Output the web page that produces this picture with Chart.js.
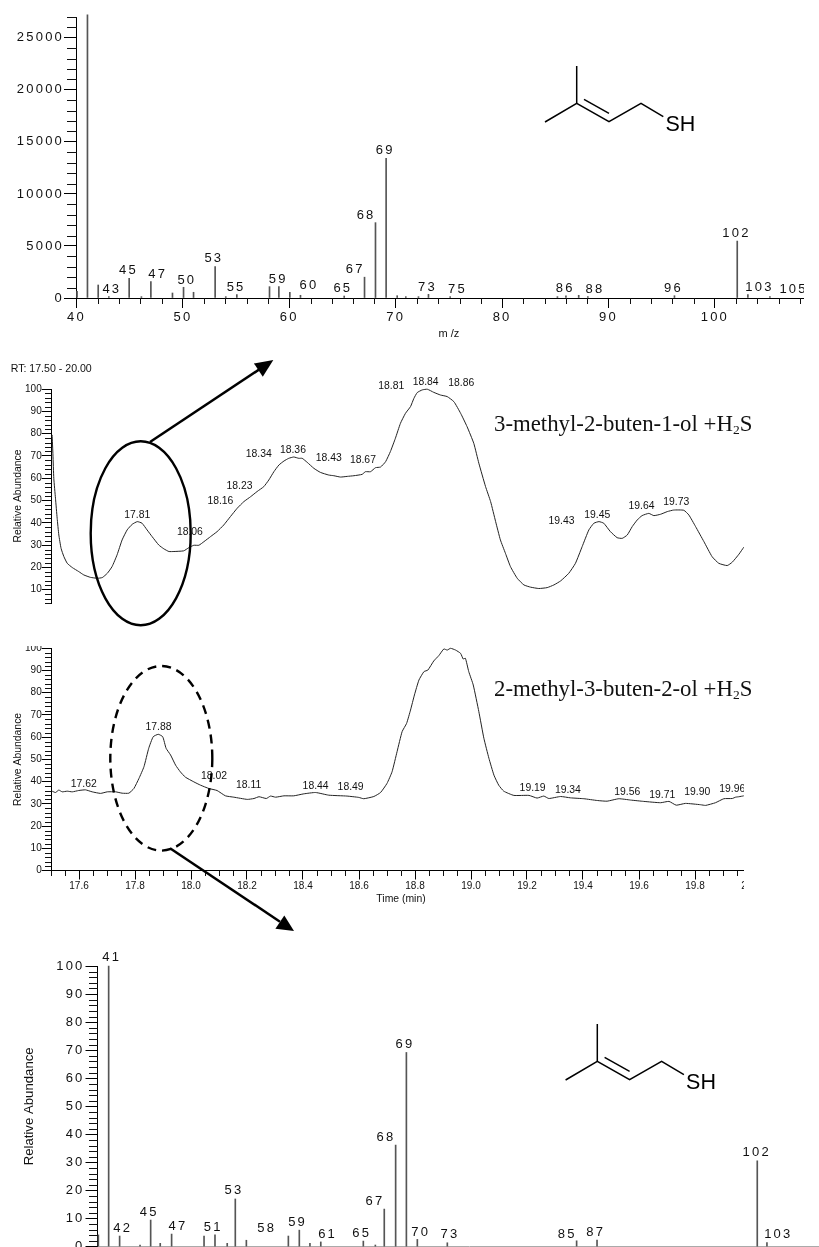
<!DOCTYPE html>
<html>
<head>
<meta charset="utf-8">
<title>Spectra and chromatograms</title>
<script src="https://cdn.jsdelivr.net/npm/chart.js@4"></script>
<style>
  html, body { margin: 0; padding: 0; background: #fff; width: 819px; height: 1247px; overflow: hidden; }
  .panel { position: absolute; left: 0; overflow: hidden; }
  .panel canvas { display: block; }
  #overlay { position: absolute; left: 0; top: 0; pointer-events: none; }
</style>
</head>
<body>
<div class="panel" style="top:0;width:804px;height:345px"><canvas id="cSpec1" width="860" height="345"></canvas></div>
<div class="panel" style="top:355px;width:744px;height:260px"><canvas id="cTic1" width="760" height="260"></canvas></div>
<div class="panel" style="top:646px;width:744px;height:270px"><canvas id="cTic2" width="760" height="270"></canvas></div>
<div class="panel" style="top:950px;width:819px;height:297px"><canvas id="cSpec2" width="900" height="320"></canvas></div>

<svg id="overlay" width="819" height="1247" xmlns="http://www.w3.org/2000/svg">
  <defs>
    <g id="mol" fill="none" stroke="#000" stroke-width="1.5">
      <path d="M545 122 L576.7 103.3 L609 121.7 L641 103.3 L663.3 116.7"/>
      <path d="M576.7 103.3 L576.7 66"/>
      <path d="M584 99.3 L609 113.3"/>
      <text x="665.5" y="130.7" fill="#000" stroke="none" font-family="Liberation Sans" font-size="21.5">SH</text>
    </g>
  </defs>
  <use href="#mol"/>
  <use href="#mol" transform="translate(20.6 958)"/>
  <text x="10.7" y="371.5" font-family="Liberation Sans" font-size="10.6" fill="#111">RT: 17.50 - 20.00</text>
  <text x="494" y="431" font-family="Liberation Serif" font-size="22.8" fill="#111">3-methyl-2-buten-1-ol +H<tspan font-size="13.5" dy="3">2</tspan><tspan dy="-3">S</tspan></text>
  <text x="494" y="696" font-family="Liberation Serif" font-size="22.8" fill="#111">2-methyl-3-buten-2-ol +H<tspan font-size="13.5" dy="3">2</tspan><tspan dy="-3">S</tspan></text>
  <ellipse cx="140.7" cy="533.3" rx="50" ry="92" fill="none" stroke="#000" stroke-width="2.4"/>
  <ellipse cx="161.3" cy="758.3" rx="51" ry="92.3" fill="none" stroke="#000" stroke-width="2.4" stroke-dasharray="9 6"/>
  <path d="M150 442 L260 368.9" stroke="#000" stroke-width="2.5"/>
  <polygon points="273.3,360 262.8,376.7 253.9,363.4" fill="#000"/>
  <path d="M170 848.3 L280 921.7" stroke="#000" stroke-width="2.5"/>
  <polygon points="294,931 275.4,928.7 284.3,915.4" fill="#000"/>
</svg>

<script>
/* upper mass spectrum */
var spec1Mz = [40.05, 41.03, 42.04, 43.04, 44.95, 46.1, 46.99, 49.02, 50.06, 51.0, 53.03, 54.03, 55.07, 58.14, 59.02, 60.05, 61.05, 65.16, 67.07, 68.1, 69.1, 70.14, 70.95, 72.14, 73.08, 75.12, 85.2, 86.0, 87.2, 88.06, 96.2, 102.1, 103.1, 105.17];
var spec1Abundance = [640, 27200, 1250, 130, 1900, 130, 1580, 480, 1030, 550, 3020, 130, 320, 1090, 1090, 550, 260, 190, 2000, 7240, 13420, 220, 130, 130, 350, 130, 130, 220, 260, 130, 220, 5470, 320, 130];
var spec1LabelText = ["43", "45", "47", "50", "53", "55", "59", "60", "65", "67", "68", "69", "73", "75", "86", "88", "96", "102", "103", "105"];
var spec1LabelMz = [43.32, 44.89, 47.64, 50.37, 52.91, 55.0, 58.95, 61.84, 65.03, 66.19, 67.22, 69.01, 72.99, 75.81, 85.93, 88.72, 96.11, 102.03, 104.19, 107.39];
var spec1LabelAbundance = [837, 2606, 2285, 1641, 3765, 1030, 1770, 1255, 965, 2735, 7950, 14160, 1062, 869, 965, 869, 933, 6210, 1030, 837];

/* upper chromatogram, 3-methyl-2-buten-1-ol + H2S */
var tic1Time = [17.504, 17.507, 17.51, 17.516, 17.522, 17.528, 17.536, 17.546, 17.558, 17.576, 17.599, 17.617, 17.641, 17.665, 17.683, 17.701, 17.718, 17.736, 17.754, 17.772, 17.79, 17.808, 17.825, 17.843, 17.861, 17.885, 17.903, 17.921, 17.939, 17.974, 17.992, 18.01, 18.028, 18.046, 18.07, 18.093, 18.117, 18.141, 18.165, 18.189, 18.213, 18.236, 18.26, 18.278, 18.296, 18.314, 18.332, 18.349, 18.367, 18.385, 18.397, 18.415, 18.439, 18.462, 18.492, 18.51, 18.534, 18.558, 18.582, 18.611, 18.623, 18.641, 18.659, 18.677, 18.695, 18.712, 18.73, 18.748, 18.766, 18.784, 18.796, 18.808, 18.826, 18.844, 18.867, 18.891, 18.915, 18.939, 18.963, 18.986, 19.01, 19.028, 19.052, 19.07, 19.088, 19.105, 19.123, 19.141, 19.165, 19.189, 19.213, 19.242, 19.272, 19.296, 19.32, 19.349, 19.373, 19.397, 19.421, 19.439, 19.457, 19.474, 19.498, 19.522, 19.54, 19.558, 19.576, 19.594, 19.611, 19.635, 19.653, 19.677, 19.701, 19.724, 19.76, 19.778, 19.802, 19.832, 19.861, 19.885, 19.915, 19.933, 19.957, 19.974];
var tic1Abundance = [79.4, 70.4, 59.9, 51.0, 42.0, 34.5, 28.5, 24.8, 21.8, 19.9, 18.1, 16.6, 15.5, 15.1, 15.4, 17.3, 20.3, 25.6, 32.3, 36.8, 39.3, 40.5, 39.8, 36.8, 33.8, 30.0, 28.3, 27.1, 27.1, 27.4, 28.8, 29.9, 29.9, 31.5, 33.8, 36.0, 39.0, 42.8, 46.5, 49.5, 51.7, 54.0, 56.2, 59.2, 62.9, 65.9, 67.7, 68.9, 69.5, 68.9, 68.9, 67.1, 64.4, 62.6, 61.4, 61.1, 60.5, 60.8, 61.1, 61.7, 62.9, 62.9, 64.7, 65.0, 67.4, 71.9, 77.9, 84.6, 89.1, 92.1, 95.8, 98.4, 99.6, 99.9, 98.5, 97.3, 96.6, 94.3, 89.1, 83.1, 75.6, 66.7, 56.2, 49.5, 40.5, 32.3, 26.3, 20.3, 15.1, 12.1, 11.1, 10.5, 10.9, 12.1, 13.9, 17.3, 21.8, 29.3, 36.8, 39.8, 40.5, 39.8, 36.0, 33.3, 33.0, 34.5, 38.3, 41.3, 43.2, 44.2, 43.2, 43.8, 45.0, 45.7, 45.6, 43.5, 38.3, 31.5, 24.8, 21.8, 20.8, 22.3, 25.9, 29.0];
var tic1LabelText = ["17.81", "18.06", "18.16", "18.23", "18.34", "18.36", "18.43", "18.67", "18.81", "18.84", "18.86", "19.43", "19.45", "19.64", "19.73"];
var tic1LabelTime = [17.808, 17.996, 18.105, 18.173, 18.242, 18.364, 18.492, 18.614, 18.715, 18.838, 18.965, 19.323, 19.451, 19.609, 19.733];
var tic1LabelAbundance = [43.5, 36.0, 49.5, 56.5, 71.0, 72.5, 69.1, 68.2, 101.5, 103.3, 102.5, 40.8, 43.5, 47.5, 49.3];

/* lower chromatogram, 2-methyl-3-buten-2-ol + H2S */
var tic2Time = [17.504, 17.516, 17.528, 17.54, 17.558, 17.576, 17.599, 17.623, 17.647, 17.677, 17.701, 17.731, 17.754, 17.778, 17.796, 17.814, 17.832, 17.849, 17.865, 17.883, 17.899, 17.911, 17.927, 17.945, 17.962, 17.98, 18.01, 18.034, 18.064, 18.093, 18.123, 18.153, 18.201, 18.225, 18.243, 18.269, 18.284, 18.302, 18.332, 18.367, 18.403, 18.445, 18.492, 18.557, 18.599, 18.617, 18.653, 18.677, 18.7, 18.718, 18.736, 18.754, 18.77, 18.784, 18.798, 18.814, 18.832, 18.846, 18.867, 18.885, 18.903, 18.915, 18.927, 18.945, 18.963, 18.972, 18.98, 18.992, 19.008, 19.028, 19.046, 19.064, 19.082, 19.099, 19.117, 19.153, 19.207, 19.236, 19.26, 19.278, 19.32, 19.355, 19.403, 19.451, 19.486, 19.528, 19.57, 19.617, 19.677, 19.707, 19.733, 19.766, 19.82, 19.838, 19.873, 19.903, 19.933, 19.945, 19.957, 19.974];
var tic2Abundance = [35.7, 35.1, 36.2, 35.4, 35.7, 35.4, 36.0, 36.3, 35.4, 34.7, 35.4, 35.4, 34.8, 34.8, 36.9, 41.4, 46.7, 55.0, 60.2, 61.3, 60.2, 55.0, 52.0, 47.4, 44.4, 42.0, 39.9, 38.4, 36.9, 36.0, 33.6, 33.0, 32.0, 32.4, 33.2, 32.4, 33.5, 33.0, 33.6, 33.6, 34.5, 35.1, 33.9, 33.5, 32.9, 32.3, 33.3, 35.1, 39.2, 44.4, 53.5, 62.5, 66.2, 72.2, 79.0, 85.7, 89.5, 90.2, 94.3, 96.7, 99.7, 99.2, 100, 99.2, 97.7, 95.2, 95.5, 89.5, 83.5, 71.5, 59.5, 50.5, 42.9, 38.4, 35.7, 33.8, 33.8, 32.6, 33.5, 32.4, 33.3, 32.7, 32.3, 31.5, 31.2, 32.3, 31.7, 31.1, 30.5, 31.1, 29.4, 30.2, 29.6, 29.3, 30.5, 32.3, 32.4, 33.0, 33.2, 33.6];
var tic2LabelText = ["17.62", "17.88", "18.02", "18.11", "18.44", "18.49", "19.19", "19.34", "19.56", "19.71", "19.90", "19.96"];
var tic2LabelTime = [17.617, 17.884, 18.082, 18.206, 18.445, 18.57, 19.22, 19.346, 19.558, 19.683, 19.808, 19.933];
var tic2LabelAbundance = [39.0, 64.4, 42.6, 38.4, 38.1, 37.4, 36.9, 36.2, 35.3, 34.1, 35.4, 36.8];

/* lower mass spectrum */
var spec2Mz = [40.08, 41.05, 42.08, 44.0, 45.0, 45.9, 46.97, 50.02, 51.05, 52.2, 52.96, 54.0, 57.95, 58.98, 59.98, 61.0, 65.0, 66.13, 66.97, 68.04, 69.05, 70.08, 72.9, 85.06, 86.98, 102.05, 102.96];
var spec2Abundance = [4.2, 100, 3.8, 0.6, 9.5, 1.2, 4.5, 3.8, 4.2, 1.2, 17.0, 2.3, 3.8, 5.9, 1.2, 1.7, 2.0, 0.6, 13.4, 36.2, 69.2, 2.6, 1.4, 2.1, 2.4, 30.6, 1.5];
var spec2LabelText = ["41", "42", "45", "47", "51", "53", "58", "59", "61", "65", "67", "68", "69", "70", "73", "85", "87", "102", "103"];
var spec2LabelMz = [41.33, 42.37, 44.87, 47.57, 50.89, 52.83, 55.91, 58.82, 61.64, 64.85, 66.1, 67.13, 68.92, 70.4, 73.15, 84.18, 86.85, 102.0, 104.03];
var spec2LabelAbundance = [103.1, 6.4, 12.2, 7.2, 6.9, 20.0, 6.5, 8.8, 4.3, 4.6, 16.0, 39.0, 72.0, 5.0, 4.2, 4.5, 5.1, 33.5, 4.2];

Chart.defaults.font.family = "'Liberation Sans', Arial, sans-serif";
Chart.defaults.color = "#111";
Chart.defaults.animation = false;
Chart.defaults.plugins.legend.display = false;
Chart.defaults.plugins.tooltip.enabled = false;

function isMajor(v, step) {
  var q = v / step;
  return Math.abs(q - Math.round(q)) < 1e-6;
}
function zip(xs, ys) {
  return xs.map(function (x, i) { return { x: x, y: ys[i] }; });
}

/* one axis: major ticks are native, minor ones come from the plugin below */
function axis(o) {
  var side = o.side;
  return {
    type: "linear",
    min: o.min, max: o.max,
    offset: false,
    display: o.display !== false,
    border: { color: o.line || "#000", width: 1 },
    grid: {
      drawOnChartArea: false,
      offset: false,
      tickLength: o.tick,
      tickWidth: 1,
      tickColor: function (c) { return isMajor(c.tick.value, o.major) ? (o.line || "#000") : "transparent"; }
    },
    ticks: {
      stepSize: o.minor,
      autoSkip: false,
      maxRotation: 0,
      padding: o.pad,
      font: { size: o.font },
      color: "#111",
      callback: function (v) {
        if (o.noLabels || !isMajor(v, o.major)) return "";
        return o.digits ? v.toFixed(o.digits) : String(Math.round(v));
      }
    },
    title: o.title ? { display: true, text: o.title, font: { size: o.titleFont }, color: "#111",
      padding: { top: o.titlePad, bottom: o.titlePad } } : undefined,
    afterFit: function (s) {
      if (side === "y") s.width = o.size; else s.height = o.size;
      s.paddingLeft = s.paddingRight = s.paddingTop = s.paddingBottom = 0;
    }
  };
}

/* draws the short ticks, the value labels and the letter spacing of the tick text */
function dressing(cfg) {
  return {
    id: "dressing",
    beforeDraw: function (chart) {
      if (!cfg.spacing) return;
      ["x", "y"].forEach(function (id) {
        var s = chart.scales[id];
        if (!s || s._spaced) return;
        var orig = s.drawLabels;
        s.drawLabels = function (a) {
          var ctx = this.ctx;
          ctx.save();
          ctx.letterSpacing = cfg.spacing;
          orig.call(this, a);
          ctx.restore();
        };
        s._spaced = true;
      });
    },
    afterDraw: function (chart) {
      var ctx = chart.ctx;
      ctx.save();
      ctx.fillStyle = "#111";
      cfg.minor.forEach(function (m) {
        var s = chart.scales[m.id];
        if (!s || !s.options.display) return;
        s.ticks.forEach(function (t) {
          if (isMajor(t.value, m.major)) return;
          var p = Math.round(s.getPixelForValue(t.value));
          if (m.id === "y") ctx.fillRect(Math.round(s.right) - m.len, p, m.len, 1);
          else ctx.fillRect(p, Math.round(s.top), 1, m.len);
        });
      });
      ctx.font = cfg.labelFont + "px 'Liberation Sans', Arial, sans-serif";
      ctx.letterSpacing = cfg.spacing || "0px";
      ctx.textAlign = "center";
      ctx.textBaseline = "middle";
      cfg.text.forEach(function (str, i) {
        ctx.fillText(str, chart.scales.x.getPixelForValue(cfg.tx[i]), chart.scales.y.getPixelForValue(cfg.ty[i]));
      });
      ctx.restore();
    }
  };
}

function spectrum(id, mz, ab, color, xAxis, yAxis, pad, deco) {
  new Chart(document.getElementById(id), {
    type: "bar",
    data: { datasets: [{ data: zip(mz, ab), backgroundColor: color, barThickness: 1, clip: false }] },
    options: {
      responsive: false,
      layout: { padding: pad },
      scales: { x: axis(xAxis), y: axis(yAxis) }
    },
    plugins: [dressing(deco)]
  });
}
function trace(id, t, ab, xAxis, yAxis, pad, deco) {
  new Chart(document.getElementById(id), {
    type: "line",
    data: { datasets: [{ data: zip(t, ab), borderColor: "#222", borderWidth: 1, pointRadius: 0, tension: 0.15, clip: false }] },
    options: {
      responsive: false,
      layout: { padding: pad },
      scales: { x: axis(xAxis), y: axis(yAxis) }
    },
    plugins: [dressing(deco)]
  });
}

spectrum("cSpec1", spec1Mz, spec1Abundance, "#555",
  { side: "x", min: 40, max: 110, major: 10, minor: 2, tick: 10, size: 47, pad: 2, font: 13, title: "m /z", titleFont: 11, titlePad: 4.4 },
  { side: "y", min: 0, max: 27000, major: 5000, minor: 1000, tick: 12.5, size: 76.5, pad: 0, font: 13 },
  { top: 17, right: 38.7 },
  { spacing: "2.2px", labelFont: 13, minor: [{ id: "x", major: 10, len: 6 }, { id: "y", major: 5000, len: 10 }],
    text: spec1LabelText, tx: spec1LabelMz, ty: spec1LabelAbundance });

trace("cTic1", tic1Time, tic1Abundance,
  { side: "x", display: false, min: 17.5, max: 20, major: 0.2, minor: 0.05, tick: 9, size: 0, pad: 2, font: 10 },
  { side: "y", min: 4, max: 100, major: 10, minor: 2, tick: 9.3, size: 51, pad: 0, font: 10, title: "Relative Abundance", titleFont: 10.4, titlePad: 11.5 },
  { top: 34, right: 9, bottom: 12 },
  { labelFont: 10.4, minor: [{ id: "y", major: 10, len: 6 }],
    text: tic1LabelText, tx: tic1LabelTime, ty: tic1LabelAbundance });

trace("cTic2", tic2Time, tic2Abundance,
  { side: "x", min: 17.5, max: 20, major: 0.2, minor: 0.05, digits: 1, tick: 9, size: 45.5, pad: 1, font: 10, title: "Time (min)", titleFont: 10.4, titlePad: 10.8 },
  { side: "y", min: 0, max: 100, major: 10, minor: 2, tick: 9.3, size: 51, pad: 0, font: 10, title: "Relative Abundance", titleFont: 10.4, titlePad: 11.5 },
  { top: 2.3, right: 9 },
  { labelFont: 10.4, minor: [{ id: "x", major: 0.2, len: 5 }, { id: "y", major: 10, len: 6 }],
    text: tic2LabelText, tx: tic2LabelTime, ty: tic2LabelAbundance });

spectrum("cSpec2", spec2Mz, spec2Abundance, "#555",
  { side: "x", min: 40, max: 110, major: 10, minor: 2, tick: 10, noLabels: true, size: 23.3, pad: 2, font: 13, line: "#aaa" },
  { side: "y", min: 0, max: 100, major: 10, minor: 2, tick: 12, size: 97.5, pad: 1, font: 13, title: "Relative Abundance", titleFont: 13.2, titlePad: 21.4 },
  { top: 16, right: 58.2 },
  { spacing: "2.2px", labelFont: 13, minor: [{ id: "x", major: 10, len: 6 }, { id: "y", major: 10, len: 9 }],
    text: spec2LabelText, tx: spec2LabelMz, ty: spec2LabelAbundance });
</script>
</body>
</html>
